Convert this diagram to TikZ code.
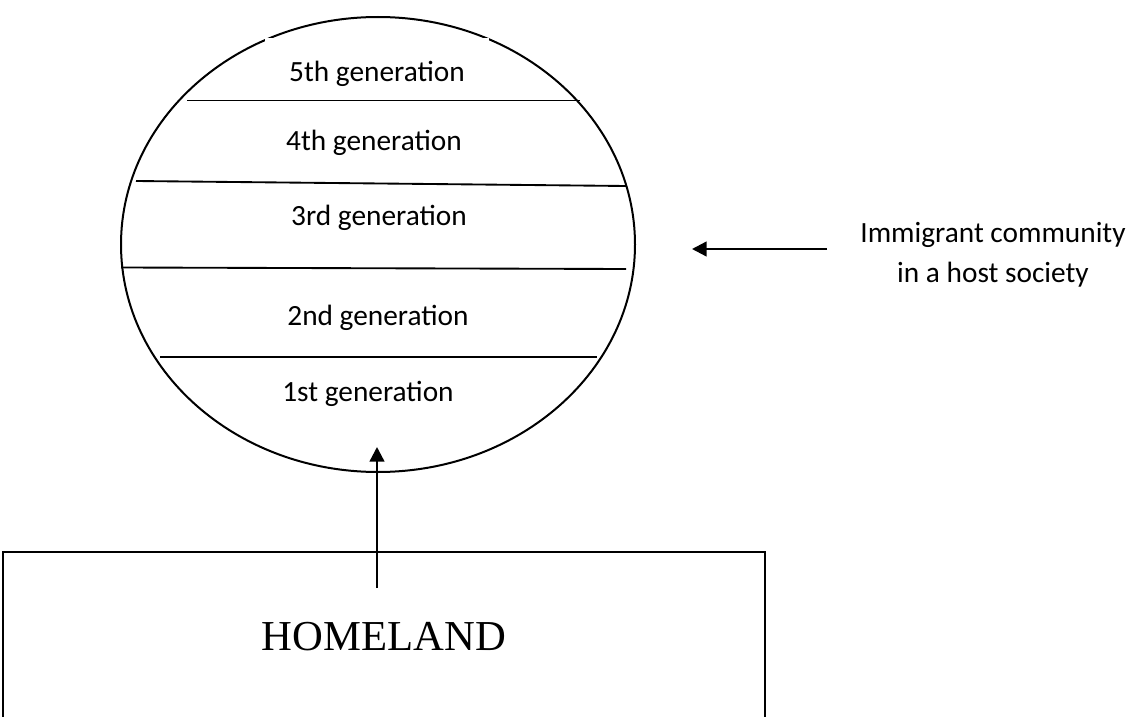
\documentclass[tikz,border=0pt]{standalone}
\usepackage{fontspec}
\setmainfont{Liberation Serif}
\newfontfamily\calfont{Carlito}
\usetikzlibrary{arrows.meta,shapes.geometric}

\begin{document}
\begin{tikzpicture}[x=0.75pt,y=-0.75pt,
  gen/.style={font=\calfont\fontsize{22}{26}\selectfont, inner sep=0pt, outer sep=0pt},
  chord/.style={line width=1.4pt},
  link/.style={line width=1.8pt, -{Triangle[length=11pt,width=11pt]}}]
\useasboundingbox (0,0) rectangle (1133,717);
\clip (0,0) rectangle (1133,717);

% the community, cut into generations
\node (community) [draw, ellipse, line width=1.5pt, inner sep=0pt, outer sep=0pt,
  minimum width=385.5pt, minimum height=341.25pt] at (378,244.5) {};
\draw[chord] (187,100.5) -- (580,100.5);
\draw[chord] (136,181) -- (626,186);
\draw[chord] (121,267.5) -- (626,269);
\draw[chord] (160,357) -- (597,357);

% generation labels (the top one sits in a white text box over the top chord)
\node (gen5) [gen, fill=white, anchor=north west, minimum width=168pt, minimum height=46.9pt,
  text height=22.5pt, text depth=4pt] at (265,38) {5th generation};
\draw[line width=0.7pt] (gen5.south west) -- (gen5.south east);
\node (gen4) [gen, anchor=base] at (374,151) {4th generation};
\node (gen3) [gen, anchor=base] at (379,225) {3rd generation};
\node (gen2) [gen, anchor=base] at (378,325) {2nd generation};
\node (gen1) [gen, anchor=base] at (368,401) {1st generation};

% caption on the right
\node (caption) [gen, align=center, font=\calfont\fontsize{22}{30}\selectfont] at (993,255)
  {Immigrant community\\in a host society};
\coordinate (capfrom) at (827,249);
\coordinate (capto) at (692,249);
\draw[link] (capfrom) -- (capto);

% homeland box
\node (homeland) [draw, line width=1.5pt, anchor=north west, inner sep=0pt, outer sep=0pt,
  minimum width=571.5pt, minimum height=127.5pt, font=\fontsize{32}{38}\selectfont]
  at (3,552) {HOMELAND};
\coordinate (migfrom) at (377,588);
\coordinate (migto) at (377,447);
\draw[link] (migfrom) -- (migto);
\end{tikzpicture}
\end{document}
